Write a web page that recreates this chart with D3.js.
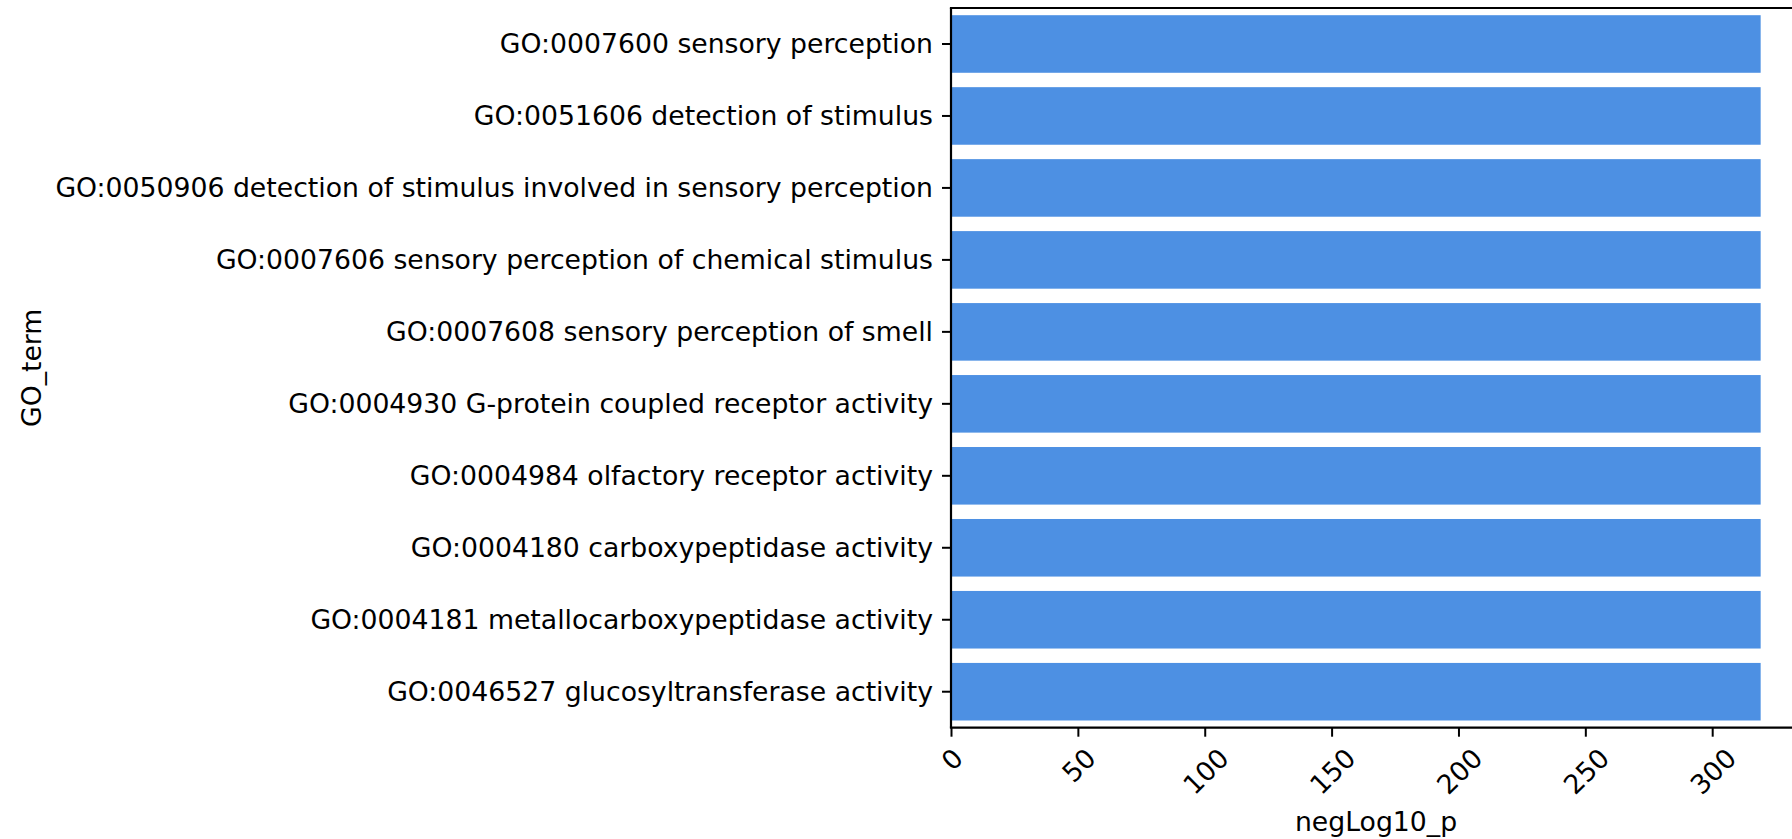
<!DOCTYPE html>
<html><head><meta charset="utf-8">
<script src="https://cdn.jsdelivr.net/npm/d3@7"></script>
<style>
html,body{margin:0;padding:0;background:#fff;}
svg{display:block;}
text{font-family:"DejaVu Sans",sans-serif;fill:#000;}
</style></head>
<body>
<script>
const categories = [
  "GO:0007600 sensory perception",
  "GO:0051606 detection of stimulus",
  "GO:0050906 detection of stimulus involved in sensory perception",
  "GO:0007606 sensory perception of chemical stimulus",
  "GO:0007608 sensory perception of smell",
  "GO:0004930 G-protein coupled receptor activity",
  "GO:0004984 olfactory receptor activity",
  "GO:0004180 carboxypeptidase activity",
  "GO:0004181 metallocarboxypeptidase activity",
  "GO:0046527 glucosyltransferase activity"
];
const values = [319.1, 319.1, 319.1, 319.1, 319.1, 319.1, 319.1, 319.1, 319.1, 319.1];
const xTicks = [0, 50, 100, 150, 200, 250, 300];
const xLabel = "negLog10_p";
const yLabel = "GO_term";

(function() {
const W = 1792, H = 839;
const mLeft = 951, mRight = 1801, mTop = 8, mBottom = 727.7;
const fs = 26.7;
const tickLen = 9, pad = 9;

const svg = d3.select("body").append("svg").attr("width", W).attr("height", H);

const x = d3.scaleLinear().domain([0, 335]).range([mLeft, mRight]);
const y = d3.scaleBand().domain(categories).range([mTop, mBottom]).paddingInner(0.2).paddingOuter(0.1);

svg.append("g").selectAll("rect").data(categories).join("rect")
  .attr("x", x(0))
  .attr("y", d => y(d))
  .attr("width", (d, i) => x(values[i]) - x(0))
  .attr("height", y.bandwidth())
  .attr("fill", "#4d90e3");

// y axis
const yAxis = svg.append("g").attr("transform", `translate(${mLeft},0)`)
  .call(d3.axisLeft(y).tickSize(tickLen).tickPadding(pad).tickSizeOuter(0));
yAxis.select(".domain").remove();
yAxis.selectAll(".tick line").attr("stroke", "#000").attr("stroke-width", 2);
yAxis.selectAll(".tick text").style("font-size", fs + "px").attr("dy", "0.35em");

// x axis
const xAxis = svg.append("g").attr("transform", `translate(0,${mBottom})`)
  .call(d3.axisBottom(x).tickValues(xTicks).tickFormat(d3.format("d")).tickSize(tickLen).tickSizeOuter(0));
xAxis.select(".domain").remove();
xAxis.selectAll(".tick line").attr("stroke", "#000").attr("stroke-width", 2);
xAxis.selectAll(".tick text").each(function() {
  const t = d3.select(this);
  t.style("font-size", fs + "px").attr("text-anchor", "middle").attr("dy", null).attr("y", 0);
  const w = this.getComputedTextLength();
  const h = fs * 0.76;
  const s = Math.SQRT1_2;
  const bh = (w + h) * s;
  const cy = tickLen + pad + bh / 2;
  t.attr("transform", `translate(0,${cy}) rotate(-45)`).attr("dy", (h * 0.5) + "px");
});

// spines
svg.append("line").attr("x1", mLeft).attr("x2", mLeft).attr("y1", mTop).attr("y2", mBottom)
  .attr("stroke", "#000").attr("stroke-width", 2.2);
svg.append("line").attr("x1", mLeft - 1.1).attr("x2", W + 10).attr("y1", mBottom).attr("y2", mBottom)
  .attr("stroke", "#000").attr("stroke-width", 2.2);
svg.append("line").attr("x1", mLeft - 1.1).attr("x2", W + 10).attr("y1", mTop).attr("y2", mTop)
  .attr("stroke", "#000").attr("stroke-width", 2.2);

// labels
svg.append("text").attr("x", (mLeft + mRight) / 2).attr("y", 831)
  .attr("text-anchor", "middle").style("font-size", fs + "px").text(xLabel);
svg.append("text").attr("transform", `translate(32,${(mTop + mBottom) / 2}) rotate(-90)`)
  .attr("text-anchor", "middle").attr("dy", "0.35em").style("font-size", fs + "px").text(yLabel);
})();
</script>
</body></html>
